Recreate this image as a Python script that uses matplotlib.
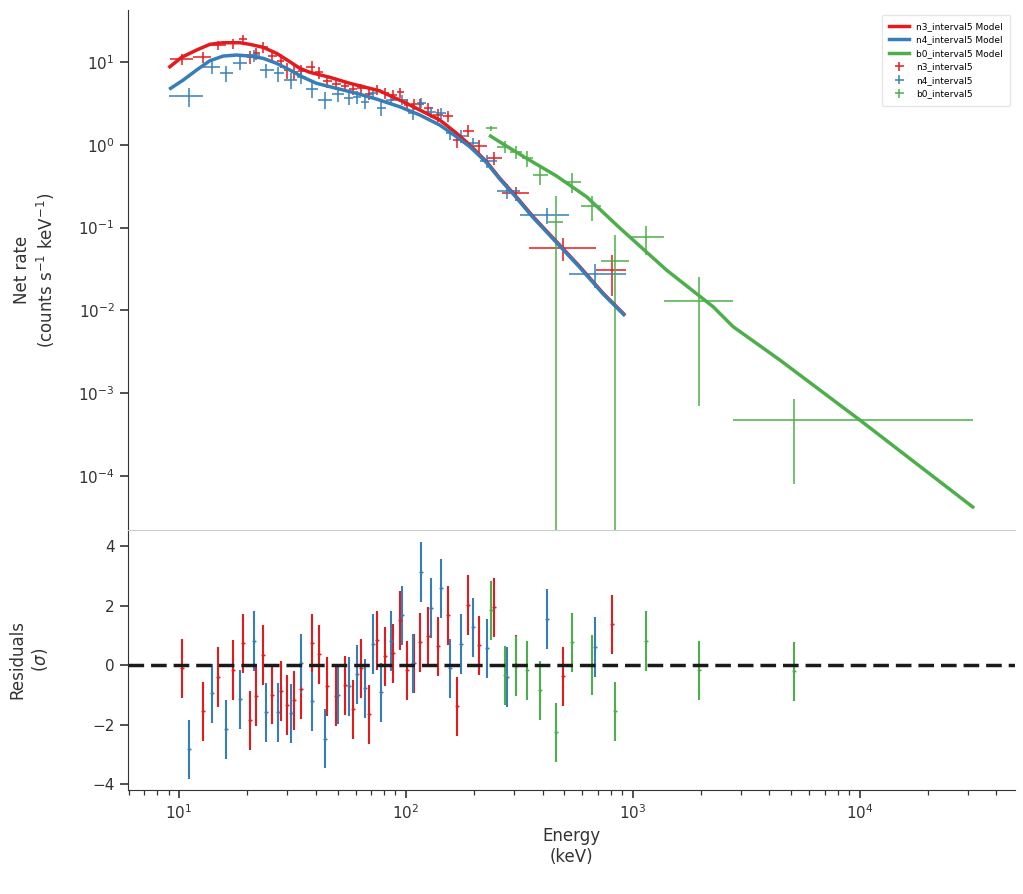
import matplotlib.pyplot as plt
import numpy as np

# ---- n3 detector (red) ----
n3_energy = [10.34, 12.79, 14.90, 17.35, 19.20, 20.61, 21.90, 23.52, 25.76, 28.23,
             30.00, 32.20, 34.58, 38.42, 41.50, 45.01, 49.32, 54.03, 58.60, 63.55,
             68.90, 74.74, 81.05, 87.93, 94.38, 101.3, 108.8, 115.6, 125.4, 138.8,
             153.6, 168.3, 188.1, 210.3, 244.9, 306.2, 493.2, 810.5]
n3_edges = [9.127, 11.53, 13.83, 16.11, 18.38, 19.93, 21.29, 22.74, 24.66, 27.02,
            29.16, 31.14, 33.43, 36.45, 39.94, 43.30, 47.21, 51.72, 56.37, 61.15,
            66.30, 71.93, 78.00, 84.60, 91.27, 98.0, 105.2, 112.4, 120.6, 132.2,
            146.3, 161.1, 178.3, 199.3, 228.6, 266.1, 348.3, 690.7, 931.5]
n3_rate = [10.8, 11.6, 16.0, 16.8, 19.0, 11.6, 12.7, 15.3, 11.8, 10.4,
           8.0, 7.6, 7.9, 8.8, 7.5, 5.9, 5.5, 5.1, 4.7, 4.8,
           4.1, 4.6, 4.2, 4.0, 4.3, 3.05, 3.1, 3.1, 2.76, 2.3,
           2.23, 1.14, 1.48, 0.97, 0.69, 0.26, 0.057, 0.031]
n3_err = [1.6, 1.8, 2.2, 2.3, 2.5, 2.0, 2.1, 2.4, 2.0, 2.0,
          1.7, 1.5, 1.4, 1.4, 1.2, 1.0, 0.9, 0.8, 0.75, 0.7,
          0.65, 0.65, 0.6, 0.6, 0.6, 0.5, 0.5, 0.48, 0.45, 0.4,
          0.35, 0.22, 0.25, 0.18, 0.12, 0.05, 0.018, 0.016]
n3_resid = [-0.11, -1.56, -0.41, -0.17, 0.73, -1.86, -1.05, 0.33, -0.99, -0.88,
            -1.35, -1.19, -0.82, 0.73, 0.36, -0.72, -1.05, -0.68, -1.49, -0.11,
            -1.66, 0.83, 0.29, 0.39, 1.50, -0.18, 0.06, 0.76, 0.96, 0.63,
            1.67, -1.39, 2.01, 0.66, 1.94, 0.0, -0.38, 1.37]

# ---- n4 detector (blue) ----
n4_energy = [11.10, 14.02, 16.16, 18.62, 21.46, 24.25, 27.38, 31.23, 34.58, 38.66,
             44.11, 50.31, 56.26, 61.03, 66.18, 71.78, 77.83, 86.15, 96.31, 107.7,
             116.8, 129.3, 143.0, 156.7, 175.2, 198.0, 228.1, 279.5, 419.4, 682.2]
n4_edges = [9.035, 12.76, 15.16, 17.29, 19.93, 22.74, 26.21, 29.16, 33.10, 36.45,
            40.96, 47.21, 53.59, 58.73, 63.68, 69.07, 74.89, 81.66, 91.27, 102.1,
            112.4, 122.5, 136.3, 150.1, 166.1, 185.7, 211.8, 251.7, 317.8, 522.4, 931.5]
n4_rate = [3.9, 8.8, 7.4, 9.8, 12.0, 8.0, 7.3, 6.0, 6.6, 4.7,
           3.5, 4.1, 3.7, 3.8, 3.3, 4.2, 2.8, 3.5, 3.5, 2.45,
           3.2, 2.5, 2.4, 1.4, 1.28, 1.04, 0.64, 0.28, 0.142, 0.0275]
n4_err = [1.0, 1.6, 1.6, 1.8, 2.0, 1.6, 1.5, 1.3, 1.2, 1.0,
          0.8, 0.8, 0.7, 0.7, 0.6, 0.6, 0.55, 0.5, 0.5, 0.45,
          0.45, 0.4, 0.35, 0.25, 0.22, 0.18, 0.12, 0.06, 0.03, 0.009]
n4_resid = [-2.83, -0.95, -2.16, -1.15, 0.80, -1.59, -1.59, -1.62, 0.06, -1.22,
            -2.47, -0.99, -0.72, -0.31, -0.78, 0.70, -0.92, 0.80, 1.67, 0.06,
            3.12, 1.91, 2.58, -0.11, 0.70, 1.27, 0.56, -0.41, 1.54, 0.60]

# ---- b0 detector (green) ----
b0_energy = [237.6, 273.8, 306.2, 342.2, 390.5, 459.4, 540.2, 661.8, 835.5, 1144.5, 1959.7, 5136.0]
b0_edges = [225.2, 253.0, 287.2, 324.3, 362.6, 422.3, 494.1, 593.2, 726.5, 960.2, 1376.0, 2757.0, 31470.0]
b0_rate = [1.58, 0.95, 0.83, 0.69, 0.43, 0.118, 0.36, 0.18, 0.0396, 0.076, 0.0129, 4.7e-4]
b0_err = [0.10, 0.15, 0.15, 0.15, 0.10, 0.125, 0.10, 0.06, 0.042, 0.029, 0.0122, 3.9e-4]
b0_resid = [1.84, -0.35, -0.04, -0.18, -0.85, -2.26, 0.76, 0.0, -1.56, 0.80, -0.18, -0.21]

# ---- folded models ----
n3_model_e = [9.127, 10.28, 11.97, 13.69, 15.68, 18.56, 20.55, 23.52, 26.94, 30.83,
              34.12, 37.77, 46.26, 56.66, 69.40, 76.84, 97.30, 115.3, 141.2, 167.3,
              191.4, 226.7, 259.5, 302.1, 363.8, 461.3, 584.2, 739.9, 912.7]
n3_model = [8.77, 11.40, 13.96, 16.36, 17.11, 17.11, 16.36, 15.05, 12.74, 10.08,
            8.39, 7.51, 6.54, 5.53, 4.81, 4.47, 3.32, 2.63, 1.99, 1.38,
            0.994, 0.625, 0.394, 0.2475, 0.1354, 0.0675, 0.0337, 0.0161, 0.00905]
n4_model_e = [9.19, 10.45, 11.97, 13.69, 15.68, 17.96, 20.55, 23.52, 26.94, 30.83,
              35.28, 40.43, 49.51, 60.65, 74.29, 94.10, 115.3, 141.2, 167.3, 191.4,
              226.7, 259.5, 302.1, 363.8, 461.3, 584.2, 739.9, 912.7]
n4_model = [4.81, 6.06, 8.01, 10.37, 11.81, 12.15, 11.81, 11.08, 9.65, 8.01,
            6.54, 5.53, 4.81, 4.19, 3.57, 2.88, 2.29, 1.73, 1.25, 0.949,
            0.611, 0.385, 0.242, 0.132, 0.066, 0.033, 0.0158, 0.0089]
b0_model_e = [236.1, 268.3, 340.1, 461.3, 625.2, 876.3, 1408, 2258, 2766, 4442, 10000, 31470]
b0_model = [1.277, 1.022, 0.687, 0.420, 0.236, 0.0989, 0.0307, 0.01108, 0.00636,
            0.00252, 4.745e-4, 4.22e-5]

RED, BLUE, GREEN = "#e41a1c", "#377eb8", "#4daf4a"
TXT = "#333333"

plt.rcParams['font.family'] = ['DejaVu Sans']
plt.rcParams['axes.edgecolor'] = TXT
plt.rcParams['xtick.color'] = TXT
plt.rcParams['ytick.color'] = TXT
plt.rcParams['axes.labelcolor'] = TXT

fig = plt.figure(figsize=(10.23, 8.94), dpi=100)
ax1 = fig.add_axes([0.125, 0.4072, 0.867, 0.5816])
ax2 = fig.add_axes([0.125, 0.1163, 0.867, 0.2909], sharex=ax1)

datasets = [
    ("n3_interval5", RED, n3_energy, n3_edges, n3_rate, n3_err, n3_resid, n3_model_e, n3_model),
    ("n4_interval5", BLUE, n4_energy, n4_edges, n4_rate, n4_err, n4_resid, n4_model_e, n4_model),
    ("b0_interval5", GREEN, b0_energy, b0_edges, b0_rate, b0_err, b0_resid, b0_model_e, b0_model),
]

model_handles = []
data_handles = []
for name, col, e, edges, rate, err, resid, me, mv in datasets:
    e = np.array(e)
    edges = np.array(edges)
    xerr = [e - edges[:-1], edges[1:] - e]
    ln, = ax1.plot(me, mv, color=col, lw=2.5, label=name + " Model", zorder=3)
    model_handles.append(ln)
    h = ax1.errorbar(e, rate, xerr=xerr, yerr=err, fmt="none", ecolor=col,
                     elinewidth=1.1, capsize=0, label=name, zorder=2)
    data_handles.append(h)
    ax2.errorbar(e, resid, yerr=np.ones(len(resid)), fmt="+", color=col, ms=3,
                 ecolor=col, elinewidth=1.5, capsize=0, zorder=2)

ax1.set_xscale("log")
ax1.set_yscale("log")
ax1.set_xlim(5.96, 48200)
ax1.set_ylim(2.23e-5, 42.5)
ax2.set_ylim(-4.2, 4.54)
ax2.axhline(0, color="#1a1a1a", lw=2.5, ls=(0, (4.5, 2)), zorder=4)
ax2.set_yticks([-4, -2, 0, 2, 4])

for sp in ["top", "right", "bottom"]:
    ax1.spines[sp].set_visible(False)
ax2.spines["right"].set_visible(False)
ax2.spines["top"].set_color("#cccccc")
ax1.tick_params(axis="x", which="both", bottom=False, labelbottom=False)
ax1.tick_params(axis="y", which="major", labelsize=11, length=6, width=1.2)
ax1.tick_params(axis="y", which="minor", length=0)
ax2.tick_params(axis="both", which="major", labelsize=11, length=6, width=1.2)
ax2.tick_params(axis="x", which="minor", length=3.5, width=0.9)

ax1.set_ylabel("Net rate\n(counts s$^{-1}$ keV$^{-1}$)", fontsize=12)
ax2.set_ylabel("Residuals\n($\\sigma$)", fontsize=12)
ax2.set_xlabel("Energy\n(keV)", fontsize=12)
ax1.yaxis.set_label_coords(-0.08, 0.5)
ax2.yaxis.set_label_coords(-0.088, 0.5)

leg = ax1.legend(model_handles + data_handles,
                 [h.get_label() for h in model_handles + data_handles],
                 loc="upper right", fontsize=6.5, frameon=True, borderpad=0.8,
                 handlelength=2.2)
leg.get_frame().set_edgecolor("#e0e0e0")

fig.savefig("out.png", dpi=100)
